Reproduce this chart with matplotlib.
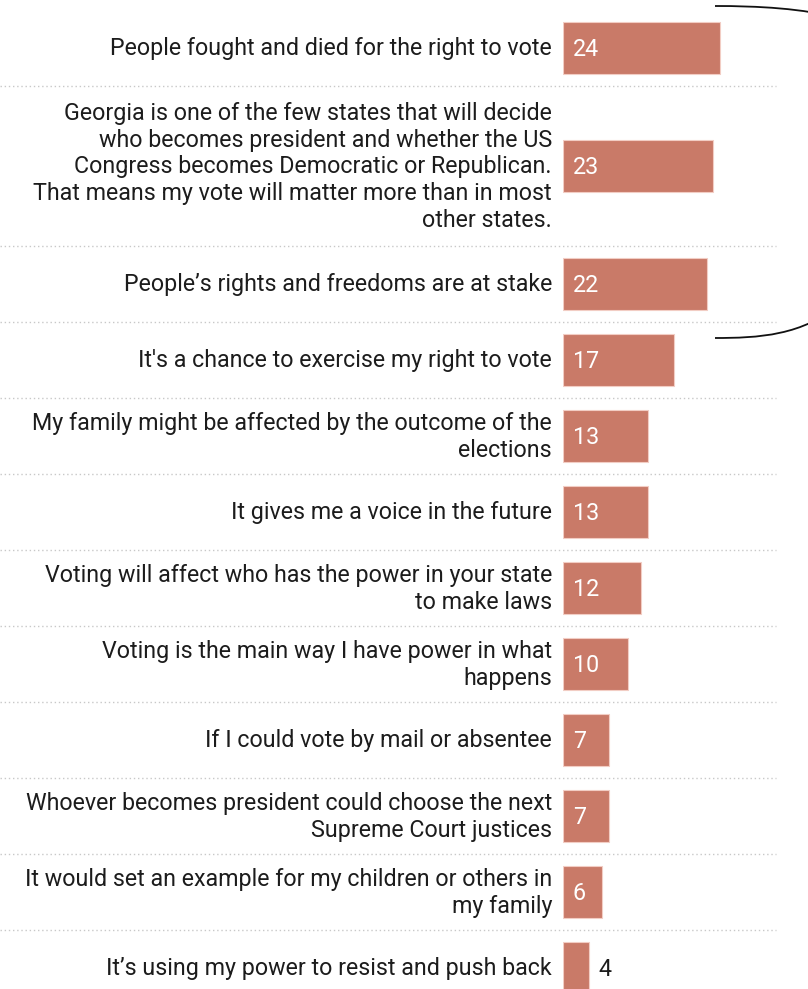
import numpy as np
import matplotlib
matplotlib.use('Agg')
import matplotlib.pyplot as plt
from matplotlib.path import Path
from matplotlib.patches import PathPatch
from matplotlib.transforms import blended_transform_factory, offset_copy

plt.rcParams['font.family'] = ['Roboto', 'DejaVu Sans']

labels = [
    'People fought and died for the right to vote',
    'Georgia is one of the few states that will decide\nwho becomes president and whether the US\n'
    'Congress becomes Democratic or Republican.\nThat means my vote will matter more than in most\nother states.',
    'People\u2019s rights and freedoms are at stake',
    "It's a chance to exercise my right to vote",
    'My family might be affected by the outcome of the\nelections',
    'It gives me a voice in the future',
    'Voting will affect who has the power in your state\nto make laws',
    'Voting is the main way I have power in what\nhappens',
    'If I could vote by mail or absentee',
    'Whoever becomes president could choose the next\nSupreme Court justices',
    'It would set an example for my children or others in\nmy family',
    'It\u2019s using my power to resist and push back',
]
values = [24, 23, 22, 17, 13, 13, 12, 10, 7, 7, 6, 4]

bar_color = '#c97a68'
text_color = '#1c1c1c'
fsize = 16.75

W, H = 808, 989
fig = plt.figure(figsize=(W / 100, H / 100), dpi=100)

# axes: x=0 at pixel 563, ~6.54 px per unit; y in pixel rows from the top
x0_px = 563
px_per_unit = 6.54
ax = fig.add_axes([x0_px / W, 0, 1 - x0_px / W, 1])
ax.set_xlim(0, (W - x0_px) / px_per_unit)
ax.set_ylim(H, 0)
ax.axis('off')

# row heights grow with the number of label lines
nlines = [l.count('\n') + 1 for l in labels]
heights = [76 + max(0, n - 2) * 28 for n in nlines]
tops = 10 + np.concatenate([[0], np.cumsum(heights)[:-1]])
centers = tops + np.array(heights) / 2

ax.barh(centers, values, height=52, color=bar_color, edgecolor='#f2cdc4',
        linewidth=0.8)

lab_tr = offset_copy(ax.transData, fig=fig, x=-11, y=-1, units='dots')
for lab, c in zip(labels, centers):
    ax.text(0, c, lab, transform=lab_tr, ha='right', va='center',
            fontsize=fsize, color=text_color, linespacing=1.2, clip_on=False)

in_tr = offset_copy(ax.transData, fig=fig, x=10, y=-1, units='dots')
out_tr = offset_copy(ax.transData, fig=fig, x=9, y=-1, units='dots')
for v, c in zip(values, centers):
    if v >= 6:
        ax.text(0, c, str(v), transform=in_tr, ha='left', va='center',
                fontsize=fsize, color='white')
    else:
        ax.text(v, c, str(v), transform=out_tr, ha='left', va='center',
                fontsize=fsize, color=text_color)

# dotted separators between rows
sep_tr = blended_transform_factory(fig.transFigure, ax.transData)
for y in tops[1:]:
    ax.plot([0, 776 / W], [y, y], transform=sep_tr, color='#c8c8c8',
            linestyle=(0, (1, 2)), linewidth=1, clip_on=False)

# bracket around the top three rows (runs off the right edge)
verts = [(715, 6), (800, 6), (900, 15), (910, 80),
         (910, 265),
         (900, 330), (800, 338), (715, 338)]
codes = [Path.MOVETO, Path.CURVE4, Path.CURVE4, Path.CURVE4,
         Path.LINETO, Path.CURVE4, Path.CURVE4, Path.CURVE4]
verts = [(x / W, 1 - y / H) for x, y in verts]
brace = PathPatch(Path(verts, codes), transform=fig.transFigure, fill=False,
                  edgecolor='#111111', linewidth=1.3)
fig.patches.append(brace)

fig.savefig('out.png', dpi=100, facecolor='white')
